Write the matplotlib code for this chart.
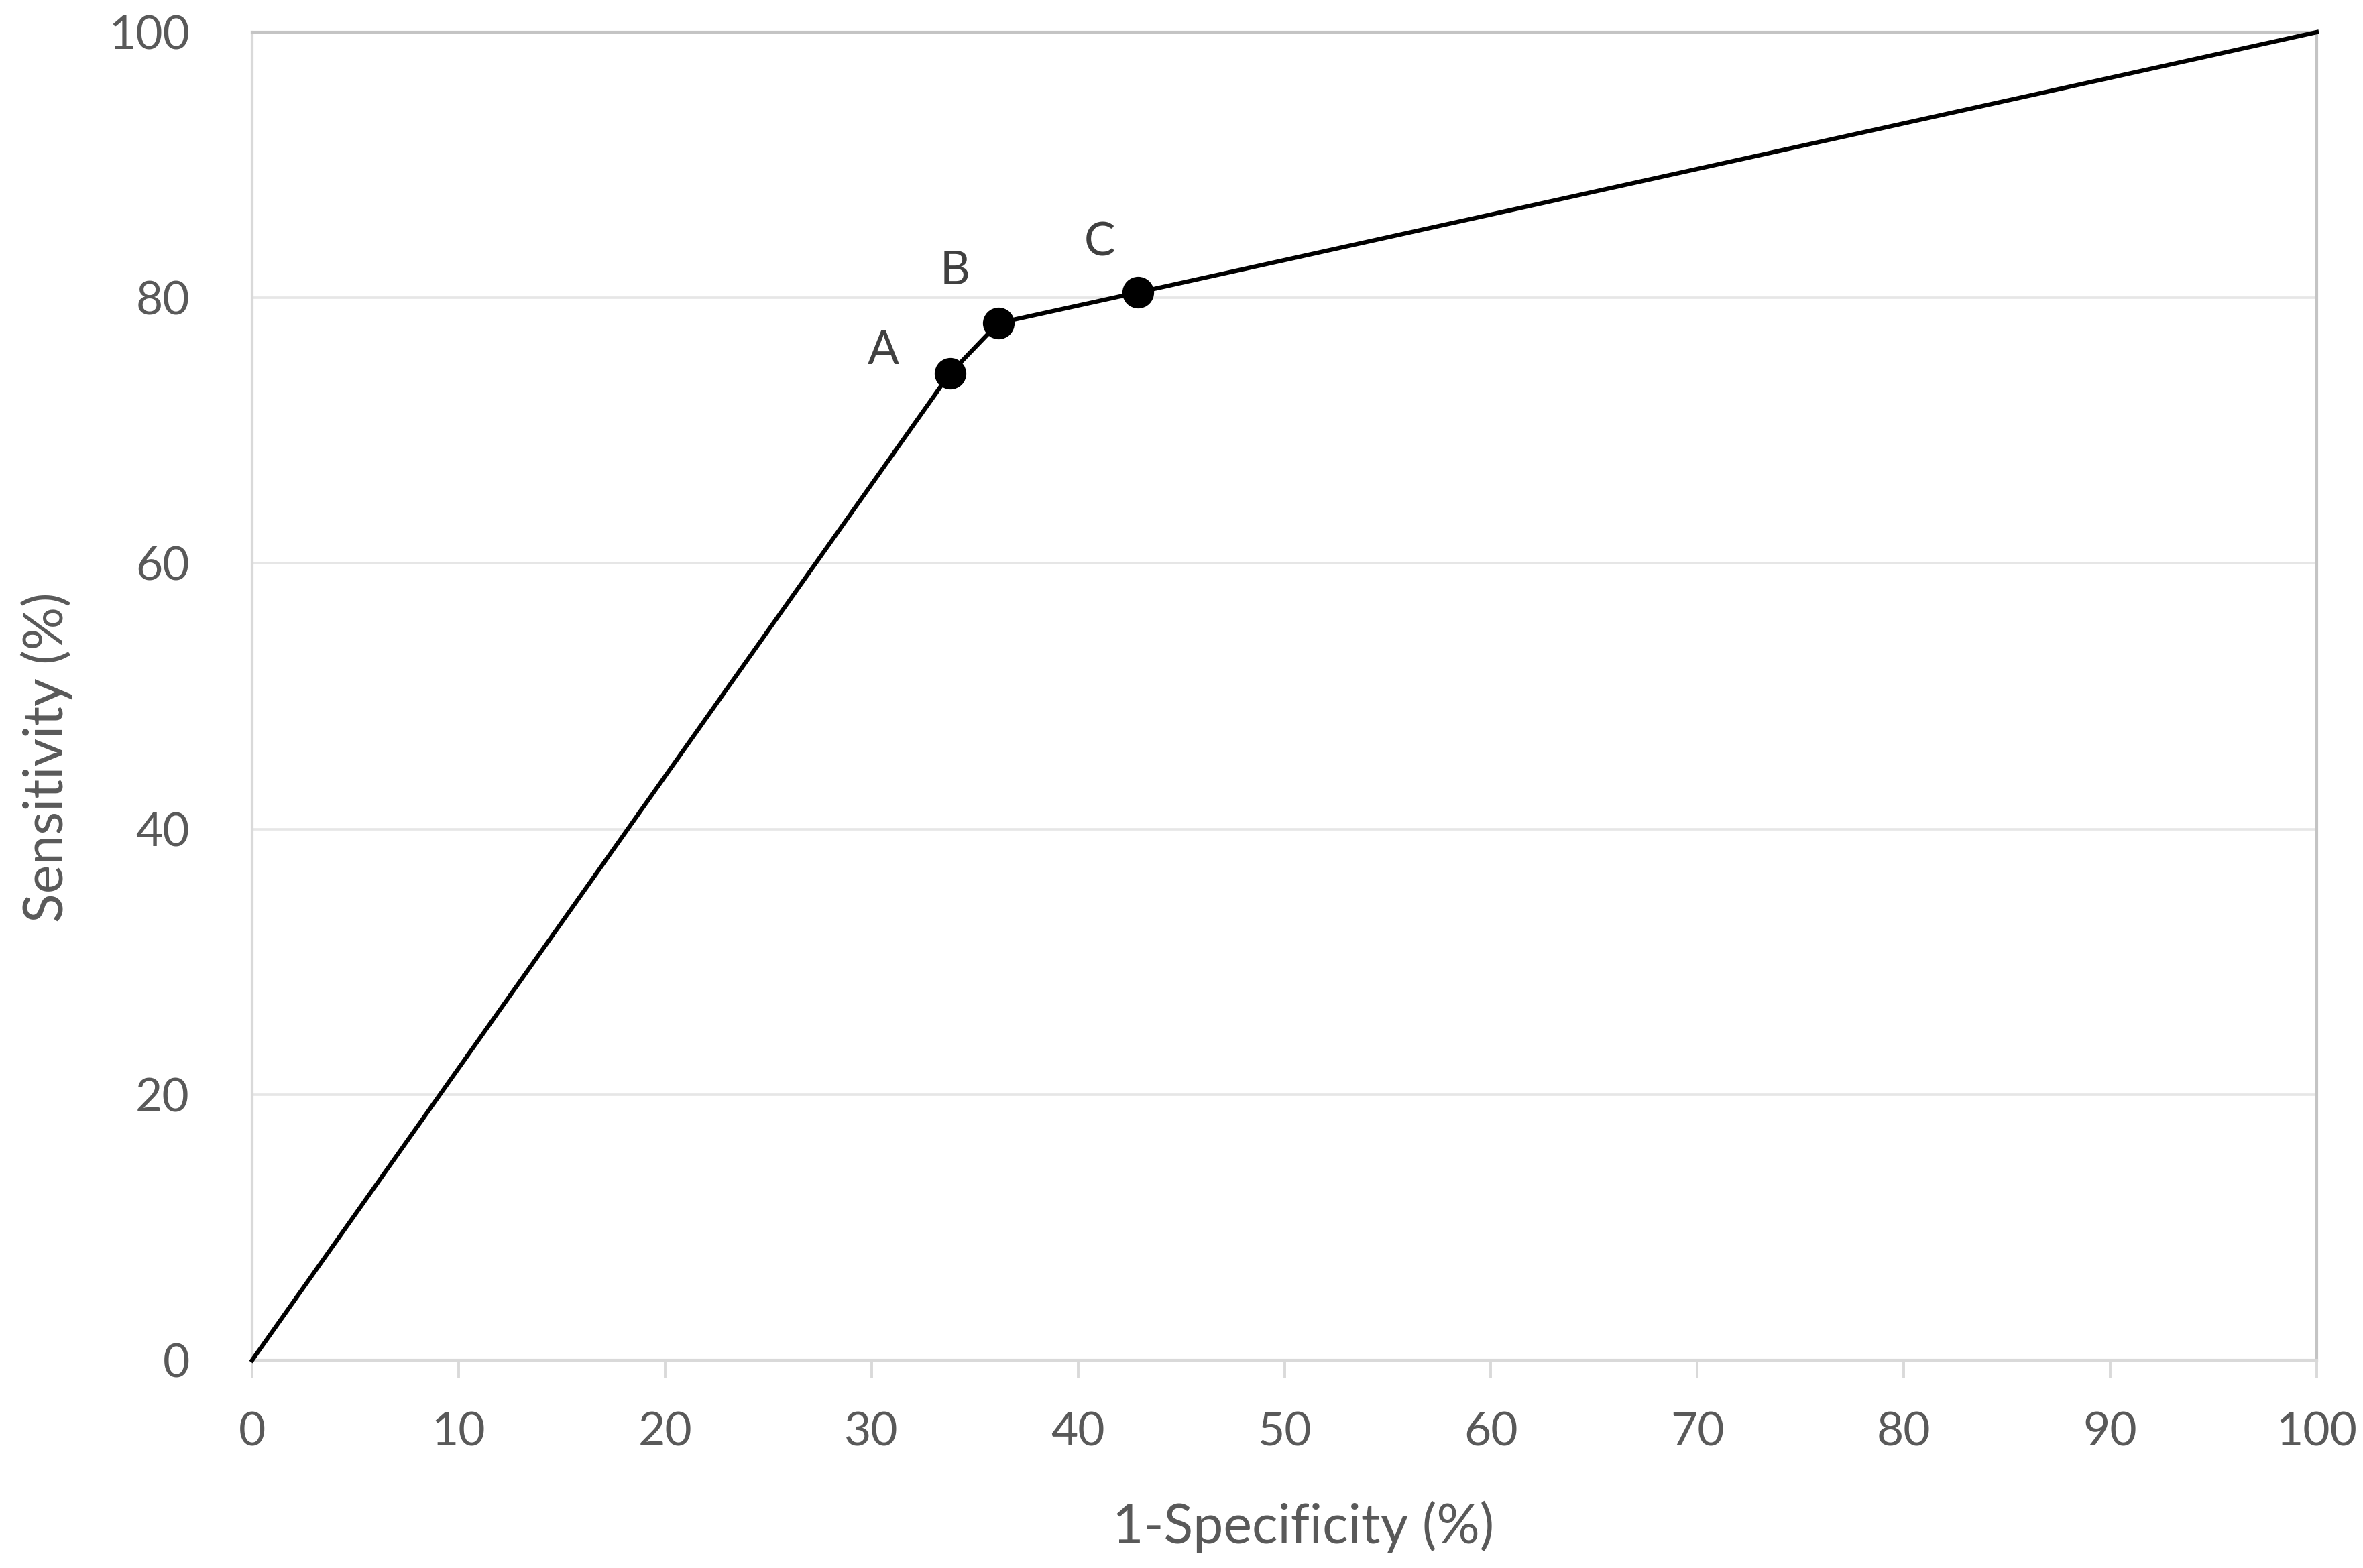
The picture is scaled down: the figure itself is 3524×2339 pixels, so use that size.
import matplotlib
matplotlib.use("Agg")
import matplotlib.pyplot as plt

# Data
fpr = [0, 33.8, 36.15, 42.9, 100]      # 1-Specificity (%)
tpr = [0, 74.3, 78.1, 80.4, 100]       # Sensitivity (%)
pt_x = [33.8, 36.15, 42.9]
pt_y = [74.3, 78.1, 80.4]
pt_labels = ["A", "B", "C"]
lab_x = [30.56, 34.04, 41.05]
lab_y = [76.0, 82.0, 84.15]
x_ticks = [0, 10, 20, 30, 40, 50, 60, 70, 80, 90, 100]
y_ticks = [0, 20, 40, 60, 80, 100]

plt.rcParams['font.family'] = ['Lato', 'DejaVu Sans']

W, H, DPI = 3524, 2339, 200
fig = plt.figure(figsize=(W / DPI, H / DPI), dpi=DPI)
ax = fig.add_axes([376 / W, 1 - 2029 / H, (3455 - 376) / W, (2029 - 48) / H])

ax.set_xlim(0, 100)
ax.set_ylim(0, 100)
ax.set_xticks(x_ticks)
ax.set_yticks(y_ticks)
ax.set_xticklabels([str(v) for v in x_ticks])
ax.set_yticklabels([str(v) for v in y_ticks])

for v in y_ticks[1:-1]:
    ax.axhline(v, color='#e6e6e6', lw=1.3, zorder=1)

for s in ['left', 'bottom']:
    ax.spines[s].set_color('#d9d9d9')
    ax.spines[s].set_linewidth(1.5)
for s in ['top', 'right']:
    ax.spines[s].set_color('#c4c4c4')
    ax.spines[s].set_linewidth(1.5)

ax.tick_params(axis='x', direction='out', length=9.4, width=1.4, color='#d9d9d9',
               labelsize=25, labelcolor='#595959', pad=18)
ax.tick_params(axis='y', length=0, labelsize=25, labelcolor='#595959', pad=33.5)

ax.plot(fpr, tpr, color='black', lw=2.3, zorder=4, clip_on=False)
ax.plot(pt_x, pt_y, 'o', color='black', ms=16, zorder=5, clip_on=False)

for lx, ly, t in zip(lab_x, lab_y, pt_labels):
    ax.text(lx, ly, t, ha='center', va='center', fontsize=25, color='#404040', zorder=6)

fig.text(1944 / W, 1 - 2302 / H, '1-Specificity (%)', ha='center', va='baseline',
         fontsize=29, color='#595959')
fig.text(69 / W, 1 - 1130 / H, 'Sensitivity (%)', ha='center', va='center',
         rotation=90, fontsize=29, color='#595959')

fig.savefig('out.png', dpi=DPI)
